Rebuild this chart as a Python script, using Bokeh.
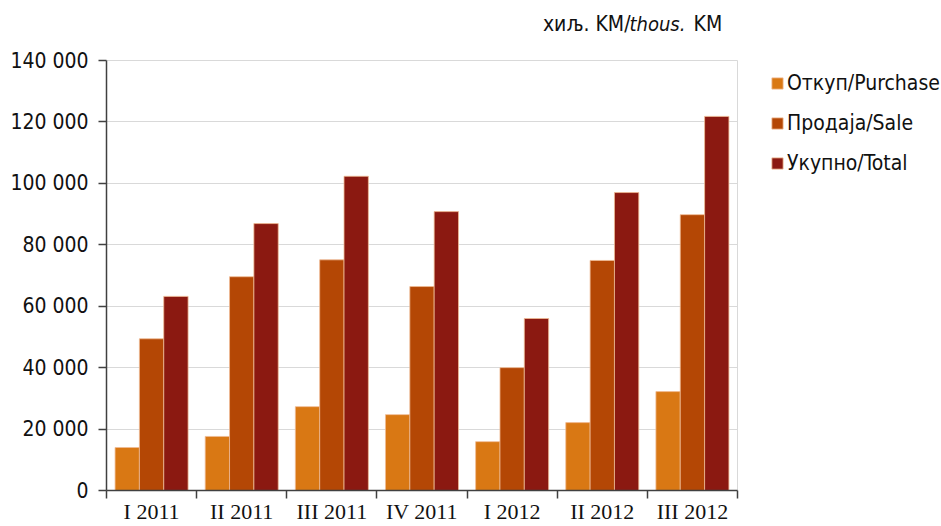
from bokeh.plotting import figure
from bokeh.models import (Range1d, FixedTicker, Legend, LegendItem, Label,
                          ColumnDataSource)
from bokeh.embed import file_html
from bokeh.resources import INLINE

# ---- data ----
categories = ["I 2011", "II 2011", "III 2011", "IV 2011", "I 2012", "II 2012", "III 2012"]
purchase = [14000, 17600, 27300, 24700, 15900, 22100, 32200]
sale = [49400, 69600, 75100, 66400, 40000, 74900, 89800]
total = [63200, 86900, 102300, 90800, 56000, 97000, 121800]
series_names = ["Откуп/Purchase", "Продаја/Sale", "Укупно/Total"]
series_colors = ["#D97814", "#B44705", "#8B1911"]
y_ticks = [0, 20000, 40000, 60000, 80000, 100000, 120000, 140000]
y_tick_labels = ["0", "20 000", "40 000", "60 000", "80 000", "100 000", "120 000", "140 000"]
unit_parts = ["хиљ. KM/", "thous.", "KM"]

SANS = "'DejaVu Sans Condensed', 'Liberation Sans Narrow', sans-serif"
SERIF = "'Liberation Serif', 'DejaVu Serif', serif"
AXIS_COLOR = "#404040"
GRID_COLOR = "#d9d9d9"

n = len(categories)
y_max = y_ticks[-1]
# plotting frame is extended right and up so that the legend and the unit
# note sit inside it; axes / grid lines are bounded to the data area.
x_end = n * (941 - 106) / 631.0
y_end = y_max * 490 / 430.0

p = figure(width=941, height=526, output_backend="svg", toolbar_location=None,
           x_range=Range1d(0, x_end), y_range=Range1d(0, y_end),
           min_border_left=106, min_border_right=0, min_border_top=0,
           min_border_bottom=36)
p.background_fill_color = "white"
p.border_fill_color = "white"
p.outline_line_color = None

bar_w = 0.27
offsets = [-bar_w, 0.0, bar_w]
renderers = []
for vals, off, col in zip([purchase, sale, total], offsets, series_colors):
    src = ColumnDataSource(dict(x=[i + 0.5 + off for i in range(n)], top=vals))
    r = p.vbar(x="x", top="top", width=bar_w, bottom=0, source=src,
               fill_color=col, line_color="#f0bb94", line_width=0.8)
    renderers.append(r)

# y axis
yax = p.yaxis[0]
yax.bounds = (0, y_max)
yax.ticker = FixedTicker(ticks=y_ticks)
yax.major_label_overrides = {t: l for t, l in zip(y_ticks, y_tick_labels)}
yax.major_label_text_font = SANS
yax.major_label_text_font_size = "21px"
yax.major_label_text_color = "#111111"
yax.axis_line_color = AXIS_COLOR
yax.axis_line_width = 1.5
yax.major_tick_line_color = AXIS_COLOR
yax.major_tick_line_width = 1.5
yax.major_tick_out = 8
yax.major_tick_in = 0
yax.minor_tick_line_color = None
yax.major_label_standoff = 10

# x axis: labels at centres, tick marks at boundaries
xax = p.xaxis[0]
xax.bounds = (0, n)
xax.ticker = FixedTicker(ticks=[i + 0.5 for i in range(n)],
                         minor_ticks=[float(i) for i in range(n + 1)])
xax.major_label_overrides = {i + 0.5: c for i, c in enumerate(categories)}
xax.major_label_text_font = SERIF
xax.major_label_text_font_size = "22px"
xax.major_label_text_color = "#111111"
xax.major_tick_line_color = None
xax.major_tick_out = 0
xax.major_tick_in = 0
xax.minor_tick_line_color = AXIS_COLOR
xax.minor_tick_line_width = 1.5
xax.minor_tick_out = 8
xax.minor_tick_in = 0
xax.axis_line_color = AXIS_COLOR
xax.axis_line_width = 1.5
xax.major_label_standoff = 0

# horizontal grid limited to the data area, plus the right border line
p.ygrid.grid_line_color = GRID_COLOR
p.ygrid.ticker = FixedTicker(ticks=y_ticks)
p.ygrid.cross_bounds = (0, n)
p.xgrid.grid_line_color = GRID_COLOR
p.xgrid.ticker = FixedTicker(ticks=[n])
p.xgrid.cross_bounds = (0, y_max)

# legend
legend = Legend(items=[LegendItem(label=nm, renderers=[r])
                       for nm, r in zip(series_names, renderers)],
                location=(664, 315), orientation="vertical")
legend.label_text_font = SANS
legend.label_text_font_size = "21px"
legend.label_text_color = "#111111"
legend.glyph_width = 14
legend.glyph_height = 14
legend.label_standoff = 3
legend.label_height = 24
legend.spacing = 16
legend.padding = 0
legend.margin = 0
legend.border_line_color = None
legend.background_fill_alpha = 0
p.add_layout(legend, "center")

# unit note (mixed italic)
y_unit = y_max * (490 - 23) / 430.0
px = n / 631.0
p.add_layout(Label(x=(630 - 106) * px, y=y_unit, text=unit_parts[0], text_align="right",
                   text_baseline="middle", text_font=SANS, text_font_size="21px",
                   text_color="#111111"))
p.add_layout(Label(x=(629 - 106) * px, y=y_unit, text=unit_parts[1], text_align="left",
                   text_baseline="middle", text_font=SANS, text_font_size="20px",
                   text_font_style="italic", text_color="#111111"))
p.add_layout(Label(x=(693 - 106) * px, y=y_unit, text=unit_parts[2], text_align="left",
                   text_baseline="middle", text_font=SANS, text_font_size="21px",
                   text_color="#111111"))

open("out.html", "w").write(file_html(p, INLINE))
